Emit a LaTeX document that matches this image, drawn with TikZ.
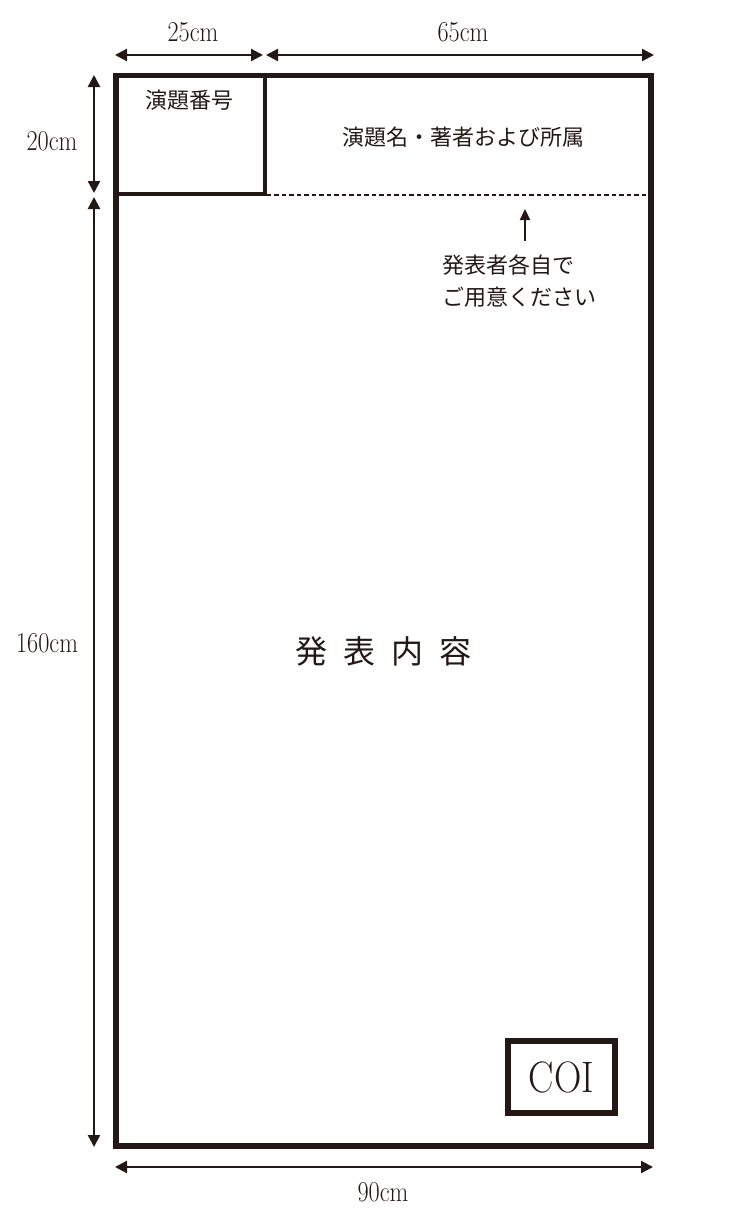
\documentclass[tikz,border=0pt]{standalone}
\usepackage{fontspec}
\newfontfamily\jp{Noto Sans CJK JP}
\usetikzlibrary{arrows.meta}
\definecolor{ink}{HTML}{231815}
\tikzset{
  dimarrow/.style={draw=ink, line width=2.3pt, {Triangle[length=12pt,width=12pt]}-{Triangle[length=12pt,width=12pt]}},
  dimlabel/.style={text=ink, inner sep=0pt, font=\fontsize{25}{28}\selectfont},
  jlabel/.style={text=ink, inner sep=0pt, font=\jp\fontsize{22}{32}\selectfont},
  frame/.style={draw=ink, line width=5.2pt},
  thinframe/.style={draw=ink, line width=3.2pt},
}
\newcommand{\tallnum}[1]{\scalebox{0.97}[1.15]{#1}}
\begin{document}
\begin{tikzpicture}[x=1pt,y=-1pt]
\useasboundingbox (0,0) rectangle (747,1224);
% main frame
\draw[frame] (116,75.5) rectangle (651,1146);
\draw[thinframe] (265,75.5) -- (265,194) -- (116,194);
\draw[draw=ink, line width=2.6pt, dash pattern=on 4.5pt off 3pt] (266.5,195) -- (648,195);
% texts in frame
\node[jlabel] (num) at (189,100) {演題番号};
\node[jlabel] (title) at (463,137) {演題名・著者および所属};
\node[jlabel, anchor=west, align=left] (note) at (442,281) {発表者各自で\\ご用意ください};
\coordinate (arrS) at (525,241);
\coordinate (arrE) at (525,209);
\draw[draw=ink, line width=2.3pt, -{Triangle[length=11pt,width=10pt]}] (arrS) -- (arrE);
\node[text=ink, inner sep=0pt, font=\jp\fontsize{32}{36}\selectfont] (content) at (383.5,651) {発\hspace{16pt}表\hspace{16pt}内\hspace{16pt}容};
\node[draw=ink, line width=5.6pt, minimum width=107pt, minimum height=72pt, inner sep=0pt, text=ink, font=\fontsize{40}{44}\selectfont] (coi) at (561.5,1077) {\scalebox{0.95}[1.1]{COI}};
% dimensions
\coordinate (t1) at (115,55); \coordinate (t2) at (263,55);
\coordinate (t3) at (266,55); \coordinate (t4) at (654,55);
\coordinate (l1) at (94,75); \coordinate (l2) at (94,193);
\coordinate (l3) at (94,197); \coordinate (l4) at (94,1147);
\coordinate (b1) at (115,1167); \coordinate (b2) at (653,1167);
\draw[dimarrow] (t1) -- (t2);
\draw[dimarrow] (t3) -- (t4);
\draw[dimarrow] (l1) -- (l2);
\draw[dimarrow] (l3) -- (l4);
\draw[dimarrow] (b1) -- (b2);
\node[dimlabel] (d25) at (193,32) {\tallnum{25cm}};
\node[dimlabel] (d65) at (463,32) {\tallnum{65cm}};
\node[dimlabel] (d20) at (52,141) {\tallnum{20cm}};
\node[dimlabel] (d160) at (47,643) {\tallnum{160cm}};
\node[dimlabel] (d90) at (383,1192) {\tallnum{90cm}};
\end{tikzpicture}
\end{document}
